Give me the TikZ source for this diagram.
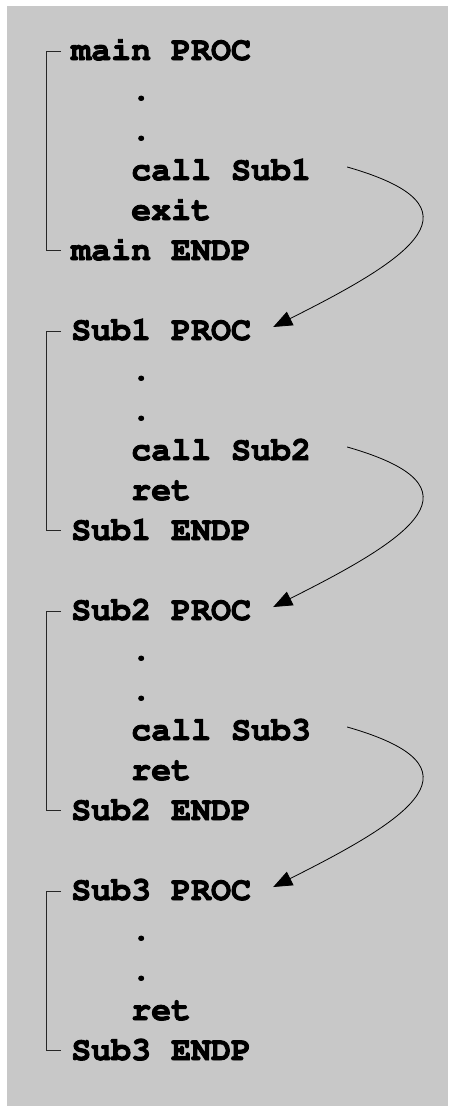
\documentclass[tikz,border=0pt]{standalone}
\usepackage[T1]{fontenc}
\usetikzlibrary{arrows.meta}
\definecolor{panel}{RGB}{200,200,200}
% heavier strokes for the listing text (fill + stroke rendering)
\newcommand{\heavy}[1]{\special{pdf:literal direct 2 Tr 0.9 w}#1\special{pdf:literal direct 0 Tr}}
\tikzset{
  code/.style={anchor=base west, inner sep=0pt, text height=18pt, text depth=0pt,
               font=\fontfamily{pcr}\fontseries{b}\fontsize{33.3pt}{40pt}\selectfont},
  brace/.style={draw=black!85, line width=0.8pt},
  callarrow/.style={draw=black, line width=0.8pt, -{Triangle[length=19pt,width=15pt]}}
}
\newcommand{\lhead}{71}
\newcommand{\lbody}{131}
\begin{document}
\begin{tikzpicture}[x=1pt,y=-1pt]
  \useasboundingbox (0,0) rectangle (448,1106);
  \fill[white] (0,0) rectangle (448,1106);
  \fill[panel] (7,6) rectangle (448,1106);

  % main
  \node[code] (mainproc) at (\lhead,60)  {\heavy{main PROC}};
  \node[code] (maind1)   at (\lbody,100) {\heavy{.}};
  \node[code] (maind2)   at (\lbody,140) {\heavy{.}};
  \node[code] (maincall) at (\lbody,180) {\heavy{call Sub1}};
  \node[code] (mainexit) at (\lbody,220) {\heavy{exit}};
  \node[code] (mainendp) at (\lhead,260) {\heavy{main ENDP}};

  % Sub1
  \node[code] (aproc) at (\lhead,340) {\heavy{Sub1 PROC}};
  \node[code] (ad1)   at (\lbody,380) {\heavy{.}};
  \node[code] (ad2)   at (\lbody,420) {\heavy{.}};
  \node[code] (acall) at (\lbody,460) {\heavy{call Sub2}};
  \node[code] (aret)  at (\lbody,500) {\heavy{ret}};
  \node[code] (aendp) at (\lhead,540) {\heavy{Sub1 ENDP}};

  % Sub2
  \node[code] (bproc) at (\lhead,620) {\heavy{Sub2 PROC}};
  \node[code] (bd1)   at (\lbody,660) {\heavy{.}};
  \node[code] (bd2)   at (\lbody,700) {\heavy{.}};
  \node[code] (bcall) at (\lbody,740) {\heavy{call Sub3}};
  \node[code] (bret)  at (\lbody,780) {\heavy{ret}};
  \node[code] (bendp) at (\lhead,820) {\heavy{Sub2 ENDP}};

  % Sub3
  \node[code] (cproc) at (\lhead,900)  {\heavy{Sub3 PROC}};
  \node[code] (cd1)   at (\lbody,940)  {\heavy{.}};
  \node[code] (cd2)   at (\lbody,980)  {\heavy{.}};
  \node[code] (cret)  at (\lbody,1020) {\heavy{ret}};
  \node[code] (cendp) at (\lhead,1060) {\heavy{Sub3 ENDP}};

  % procedure brackets
  \foreach \p/\e in {mainproc/mainendp, aproc/aendp, bproc/bendp, cproc/cendp}
    \draw[brace] ([xshift=-10pt]\p.west) -- ++(-15,0) |- ([xshift=-10pt,yshift=1pt]\e.west);

  % call arrows
  \foreach \c/\t in {maincall/aproc, acall/bproc, bcall/cproc}
    \draw[callarrow] ([xshift=36pt,yshift=4pt]\c.east)
      .. controls +(140,40) and +(140,-70) .. ([xshift=22pt,yshift=4pt]\t.east);
\end{tikzpicture}
\end{document}
